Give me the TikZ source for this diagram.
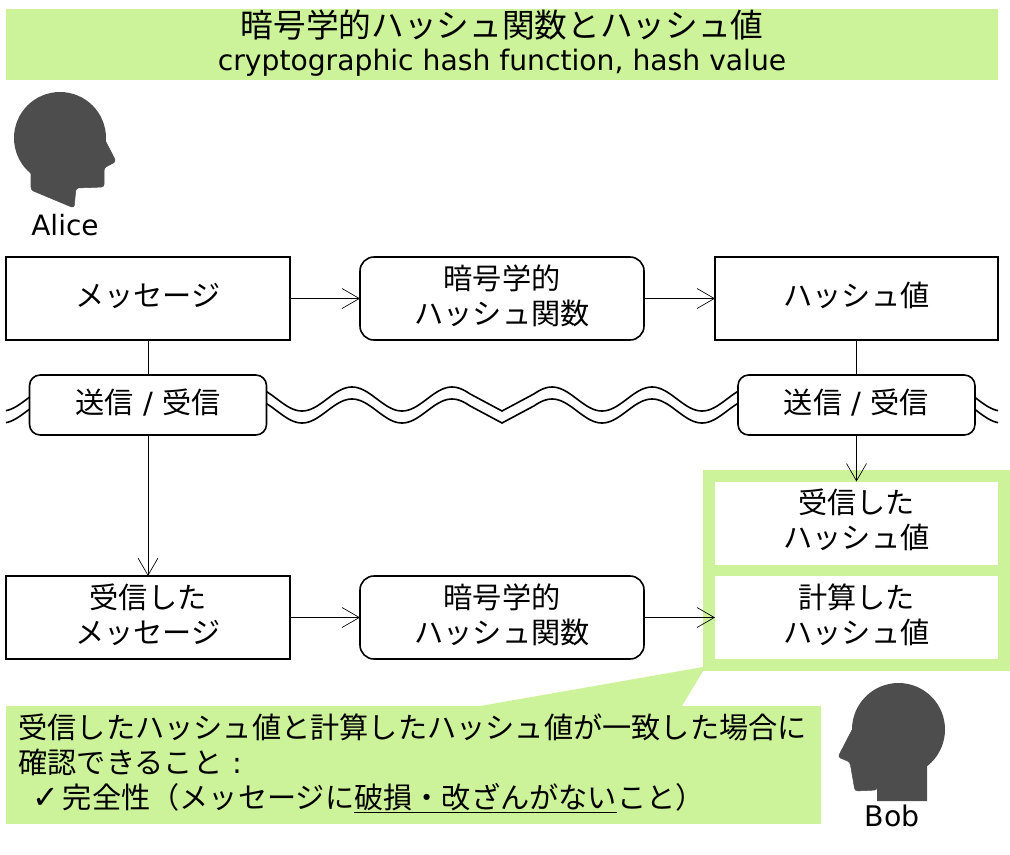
\documentclass[tikz,border=0pt]{standalone}
\usepackage{fontspec}
\setmainfont{DejaVu Sans}
\newfontfamily\cjk{Noto Sans CJK JP}
\usetikzlibrary{arrows.meta}
\definecolor{lime}{RGB}{204,243,154}
\definecolor{headgray}{RGB}{77,77,77}
\newcommand\upl[1]{\raisebox{2.2pt}[\height][\depth]{#1}}
\newcommand\upn[1]{\raisebox{1.2pt}[\height][\depth]{#1}}
\tikzset{
  x=0.75pt,y=-0.75pt,
  every node/.style={inner sep=0pt,outer sep=0pt,align=center,text=black},
  bodytext/.style={font=\fontsize{21.9pt}{26.3pt}\selectfont\cjk},
  sqbox/.style={bodytext,draw=black,line width=1.1pt,fill=white,minimum width=213pt,minimum height=62.25pt},
  rdbox/.style={sqbox,line width=1.2pt,rounded corners=10.5pt},
  sendbox/.style={bodytext,draw=black,line width=1.2pt,fill=white,rounded corners=8pt,minimum width=177.75pt,minimum height=45pt},
  plainbox/.style={bodytext,fill=white,minimum width=212.25pt,minimum height=62.25pt},
  wire/.style={draw=black,line width=0.6pt},
  arrowline/.style={wire,-{Straight Barb[length=13pt,width=15pt,line width=0.5pt]}},
  wave/.style={draw=black,line width=1.2pt},
  head/.style={fill=headgray,draw=headgray,line width=0.4pt,line join=round,rounded corners=2pt}
}
\begin{document}
\begin{tikzpicture}
\useasboundingbox (0,0) rectangle (1010,854);
% title
\node[fill=lime,minimum width=744pt,minimum height=53.25pt,font=\fontsize{21.15pt}{27pt}\selectfont] (title) at (502,44.5)
  {\upn{\cjk\fontsize{24.5pt}{27pt}\selectfont 暗号学的ハッシュ関数とハッシュ値}\\[-2pt]\upn{cryptographic hash function, hash value}};
% Alice
\fill[headgray] (60,138) circle [radius=46];
\path[head] (31,165) -- (31,190) -- (74,208) -- (76,188) -- (104,187) -- (104,168) -- (116,161.5) -- (105,140) -- (60,130) -- cycle;
\node[font=\fontsize{21pt}{26pt}\selectfont] (alice) at (65,225) {Alice};
% wave
\draw[wave] plot[domain=6:470,samples=200] (\x,{399+12*cos(3.6*(\x-2))}) -- (502,411) -- plot[domain=534:998,samples=200] (\x,{399+12*cos(3.6*(\x-2))});
\draw[wave] plot[domain=6:470,samples=200] (\x,{411+12*cos(3.6*(\x-2))}) -- (502,423) -- plot[domain=534:998,samples=200] (\x,{411+12*cos(3.6*(\x-2))});
% green frame
\fill[lime] (703,470) rectangle (1010,671);
% callout
\fill[lime] (480,706) -- (703,667) -- (703,671) -- (682,706) -- cycle;
\node[fill=lime,minimum width=611.25pt,minimum height=88.5pt,anchor=north west,text width=600pt,align=left,bodytext] (note) at (6,706)
  {\upn{\hspace*{3.75pt}受信したハッシュ値と計算したハッシュ値が一致した場合に}\\
   \upn{\hspace*{3.75pt}確認できること{\fontspec{DejaVu Sans}\ :}}\\
   \upn{\hspace*{14pt}{\fontspec{DejaVu Sans}\fontsize{24pt}{26pt}\selectfont ✓}\kern3pt 完全性（メッセージに\underline{破損・改ざんがない}こと）}};
% boxes
\node[sqbox] (msg) at (148,298.5) {\upl{メッセージ}};
\node[rdbox] (fn) at (502,298.5) {\upl{暗号学的}\\\upl{ハッシュ関数}};
\node[sqbox,minimum width=212.25pt] (hash) at (856.5,298.5) {\upl{ハッシュ値}};
\node[sendbox] (sl) at (148,405) {\upl{送信{\fontspec{DejaVu Sans}\ /\ }受信}};
\node[sendbox] (sr) at (856.5,405) {\upl{送信{\fontspec{DejaVu Sans}\ /\ }受信}};
\node[sqbox] (rmsg) at (148,617.5) {\upl{受信した}\\\upl{メッセージ}};
\node[rdbox] (fn2) at (502,617.5) {\upl{暗号学的}\\\upl{ハッシュ関数}};
\node[plainbox] (rh) at (856.5,523) {\upl{受信した}\\\upl{ハッシュ値}};
\node[plainbox] (ch) at (856.5,617.5) {\upl{計算した}\\\upl{ハッシュ値}};
% connectors
\draw[arrowline] (msg) -- (fn);
\draw[arrowline] (fn) -- (hash);
\draw[wire] (msg) -- (sl);
\draw[wire] (hash) -- (sr);
\draw[arrowline] (sl) -- (rmsg);
\draw[arrowline] (sr) -- (rh);
\draw[arrowline] (rmsg) -- (fn2);
\draw[arrowline] (fn2) -- (ch);
% Bob
\fill[headgray] (898.5,729.5) circle [radius=46.5];
\fill[headgray] (927,760) -- (927,801) -- (877,801) -- (877,780) -- (900,760) -- cycle;
\path[head] (900,760) -- (877,785) -- (877,790) -- (855,791) -- (850,762) -- (838,757) -- (853,728) -- (900,720) -- cycle;
\node[font=\fontsize{21.3pt}{26pt}\selectfont] (bob) at (892,816) {Bob};
\end{tikzpicture}
\end{document}
